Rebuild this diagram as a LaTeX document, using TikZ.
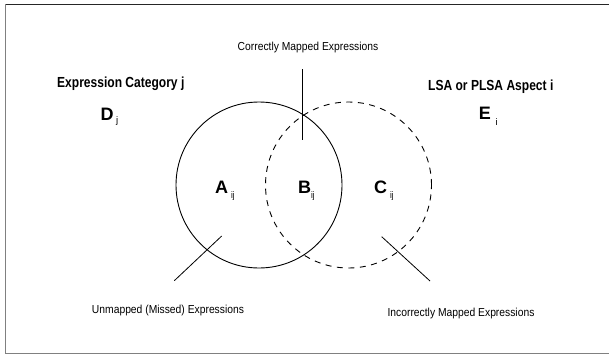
\documentclass[tikz,border=0pt]{standalone}
\usepackage{fontspec}
\setmainfont{Liberation Sans}
\usepackage{graphicx}
\newcommand\cnd[2]{\scalebox{#1}[1]{#2}}
\begin{document}
\begin{tikzpicture}[x=1pt,y=-1pt,
  smalltxt/.style={font=\fontsize{11.6}{13}\selectfont, inner sep=0pt, anchor=base},
  titletxt/.style={font=\fontsize{14.6}{16}\selectfont\bfseries, inner sep=0pt, anchor=base west},
  bigtxt/.style={font=\fontsize{18}{20}\selectfont\bfseries, inner sep=0pt, anchor=base west},
  subtxt/.style={font=\fontsize{9.5}{11}\selectfont, inner sep=0pt, anchor=base west},
  setline/.style={line width=0.9pt, black},
  pointer/.style={line width=0.8pt, black},
  dashset/.style={setline, dash pattern=on 6pt off 5.5pt}]
\clip (0,0) rectangle (609,356);
% frame
\draw[line width=1.3pt, black!85] (5.7,4.3) -- (615,4.3);
\draw[line width=1.5pt, black!50] (5.7,4.3) -- (5.7,353.3) -- (615,353.3);
% sets
\node[setline, draw, circle, minimum size=166pt, inner sep=0pt] (setD) at (259,185) {};
\node[dashset, draw, circle, minimum size=166pt, inner sep=0pt] (setE) at (348.5,185) {};
% titles
\node[titletxt] (catj) at (57,87.5) {\cnd{0.825}{Expression Category j}};
\node[titletxt] (aspi) at (428,90.5) {\cnd{0.825}{LSA or PLSA Aspect i}};
% big letters
\node[bigtxt] (D) at (100.3,120) {D};
\node[subtxt] (Dsub) at (116,123) {j};
\node[bigtxt] (E) at (478.6,119.3) {E};
\node[subtxt] (Esub) at (495.5,125) {i};
\node[bigtxt] (A) at (215,193.3) {A};
\node[subtxt] (Asub) at (230.8,198) {\cnd{0.85}{ij}};
\node[bigtxt] (B) at (297.8,193.3) {B};
\node[subtxt] (Bsub) at (310.8,198) {\cnd{0.85}{ij}};
\node[bigtxt] (C) at (374,193.3) {C};
\node[subtxt] (Csub) at (389.8,198) {\cnd{0.85}{ij}};
% labels
\node[smalltxt] (corr) at (308,50) {\cnd{0.89}{Correctly Mapped Expressions}};
\node[smalltxt] (unm) at (168,313.3) {\cnd{0.89}{Unmapped (Missed) Expressions}};
\node[smalltxt] (inc) at (461,316.7) {\cnd{0.89}{Incorrectly Mapped Expressions}};
% pointer lines
\coordinate (p1a) at (302,69);
\coordinate (p1b) at (302,140);
\coordinate (p2a) at (221.7,236);
\coordinate (p2b) at (174.3,280.7);
\coordinate (p3a) at (381.7,236.7);
\coordinate (p3b) at (430,281);
\draw[pointer] (p1a) -- (p1b);
\draw[pointer] (p2a) -- (p2b);
\draw[pointer] (p3a) -- (p3b);
\end{tikzpicture}
\end{document}
